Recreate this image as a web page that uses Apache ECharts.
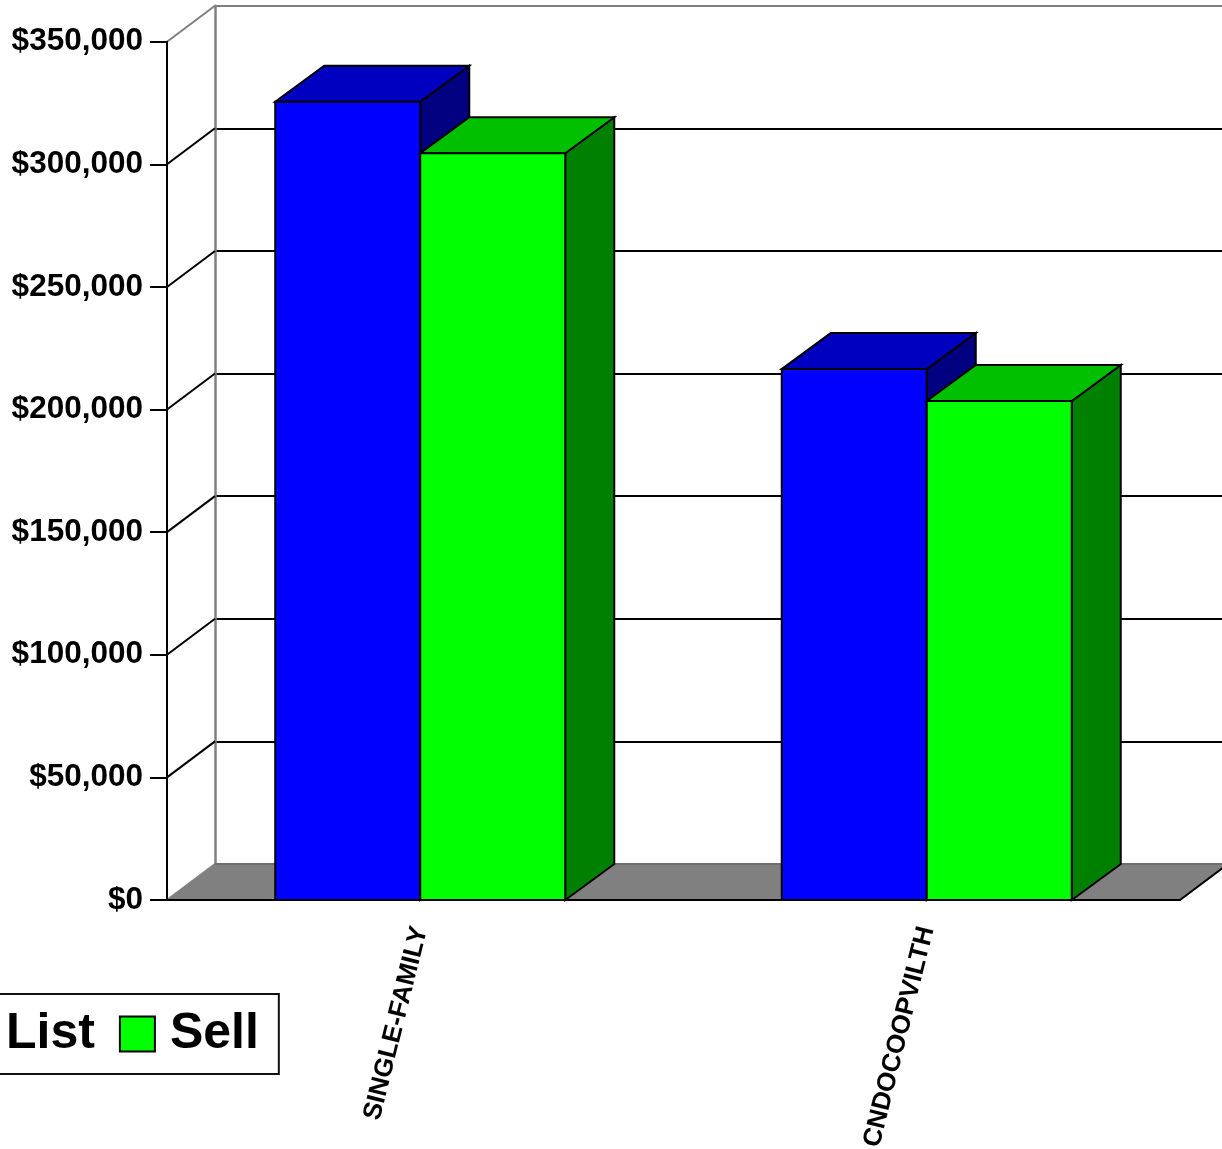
<!DOCTYPE html>
<html>
<head>
<meta charset="utf-8">
<script src="https://cdn.jsdelivr.net/npm/echarts@6/dist/echarts.min.js"></script>
<style>
html,body{margin:0;padding:0;background:#fff;}
#chart{width:1222px;height:1149px;}
</style>
</head>
<body>
<div id="chart"></div>
<script>
const categories = ['SINGLE-FAMILY', 'CNDOCOOPVILTH'];
const listValues = [325500, 216500];
const sellValues = [304500, 203500];
const yTicks = [0, 50000, 100000, 150000, 200000, 250000, 300000, 350000];

const FONT = "'Liberation Sans', Arial, sans-serif";
const DX = 49, DY = -36;      // bar depth
const WDX = 48, WDY = -36;    // wall depth
const LW = 2;

function barRender(side, frontC, topC, sideC) {
  return function (params, api) {
    const idx = api.value(0);
    const val = api.value(1);
    const base = api.coord([idx, 0]);
    const top = api.coord([idx, val]);
    const band = api.size([1, 0])[0];
    const w = band * 0.2863;
    const x0 = side === 0 ? base[0] - w : base[0];
    const x1 = x0 + w;
    const yb = base[1], yt = top[1];
    const st = { stroke: '#000', lineWidth: LW, lineJoin: 'miter' };
    return {
      type: 'group',
      children: [
        { type: 'polygon', shape: { points: [[x1, yb], [x1 + DX, yb + DY], [x1 + DX, yt + DY], [x1, yt]] },
          style: Object.assign({ fill: sideC }, st) },
        { type: 'polygon', shape: { points: [[x0, yt], [x1, yt], [x1 + DX, yt + DY], [x0 + DX, yt + DY]] },
          style: Object.assign({ fill: topC }, st) },
        { type: 'rect', shape: { x: x0, y: yt, width: w, height: yb - yt },
          style: Object.assign({ fill: frontC }, st) }
      ]
    };
  };
}

const chart = echarts.init(document.getElementById('chart'));
const option = {
  animation: false,
  backgroundColor: '#fff',
  grid: [
    { left: 167, top: 41.7, width: 1013, height: 858.3, containLabel: false, outerBoundsMode: 'none' },
    { left: 215, top: 5.7, width: 1013, height: 858.3, containLabel: false, outerBoundsMode: 'none' }
  ],
  legend: {
    data: ['List', 'Sell'],
    left: -55, top: 994,
    orient: 'horizontal',
    icon: 'rect',
    itemWidth: 35, itemHeight: 35, itemGap: 24,
    padding: [15, 20, 15, 10],
    borderColor: '#111', borderWidth: 2,
    selectedMode: false,
    itemStyle: { borderColor: '#000', borderWidth: 2 },
    textStyle: { fontSize: 50, fontWeight: 'bold', color: '#000', fontFamily: FONT, lineHeight: 50, padding: [0, 0, 0, 10] }
  },
  xAxis: [
    {
      type: 'category', gridIndex: 0, data: categories, boundaryGap: true, z: 10,
      axisLine: { lineStyle: { color: '#000', width: LW } },
      axisTick: { length: 16, lineStyle: { color: '#000', width: LW } },
      axisLabel: { rotate: 76, margin: 27, fontSize: 26, fontWeight: 'bold', color: '#000', fontFamily: FONT },
      splitLine: { show: false }
    },
    { type: 'value', gridIndex: 1, show: false, min: 0, max: 1 }
  ],
  yAxis: [
    {
      type: 'value', gridIndex: 0, min: 0, max: 350000, interval: 50000, z: 10,
      axisLine: { show: true, lineStyle: { color: '#000', width: LW } },
      axisTick: { show: true, length: 17, lineStyle: { color: '#000', width: LW } },
      axisLabel: {
        margin: 24, fontSize: 31.5, fontWeight: 'bold', color: '#000', fontFamily: FONT,
        formatter: v => '$' + Number(v).toLocaleString('en-US')
      },
      splitLine: { show: false }
    },
    {
      type: 'value', gridIndex: 1, min: 0, max: 350000, interval: 50000,
      axisLine: { show: true, lineStyle: { color: '#808080', width: 2.5 } },
      axisTick: { show: false }, axisLabel: { show: false },
      splitLine: { show: true, lineStyle: { width: LW, color: ['#808080', '#000', '#000', '#000', '#000', '#000', '#000', '#808080'] } }
    }
  ],
  series: [
    {
      type: 'custom', name: 'floor', xAxisIndex: 0, yAxisIndex: 0, z: 1, silent: true,
      data: [[0, 0]],
      renderItem: function (params, api) {
        const cs = params.coordSys;
        const y0 = cs.y + cs.height, x = cs.x, w = cs.width;
        return {
          type: 'group', children: [
            { type: 'polygon', shape: { points: [[x, y0], [x + w, y0], [x + w + WDX, y0 + WDY], [x + WDX, y0 + WDY]] },
              style: { fill: '#808080' } },
            { type: 'line', shape: { x1: x + WDX, y1: y0 + WDY, x2: x + w + WDX, y2: y0 + WDY }, style: { stroke: '#6e6e6e', lineWidth: LW } },
            { type: 'line', shape: { x1: x + w, y1: y0, x2: x + w + WDX, y2: y0 + WDY }, style: { stroke: '#000', lineWidth: LW } }
          ]
        };
      }
    },
    {
      type: 'custom', name: 'walls', xAxisIndex: 0, yAxisIndex: 0, z: 2, silent: true,
      data: yTicks.map(v => [0, v]),
      renderItem: function (params, api) {
        const v = api.value(1);
        const y = api.coord([0, v])[1];
        const x = params.coordSys.x;
        const c = (v === 0 || v === 350000) ? '#808080' : '#000';
        return { type: 'line', shape: { x1: x, y1: y, x2: x + WDX, y2: y + WDY }, style: { stroke: c, lineWidth: LW } };
      }
    },
    {
      type: 'custom', name: 'List', xAxisIndex: 0, yAxisIndex: 0, z: 3,
      itemStyle: { color: '#0000FF' },
      data: listValues.map((v, i) => [i, v]),
      renderItem: barRender(0, '#0000FF', '#0000C0', '#000080')
    },
    {
      type: 'custom', name: 'Sell', xAxisIndex: 0, yAxisIndex: 0, z: 4,
      itemStyle: { color: '#00FF00' },
      data: sellValues.map((v, i) => [i, v]),
      renderItem: barRender(1, '#00FF00', '#00C000', '#008000')
    }
  ]
};
chart.setOption(option);
</script>
</body>
</html>
